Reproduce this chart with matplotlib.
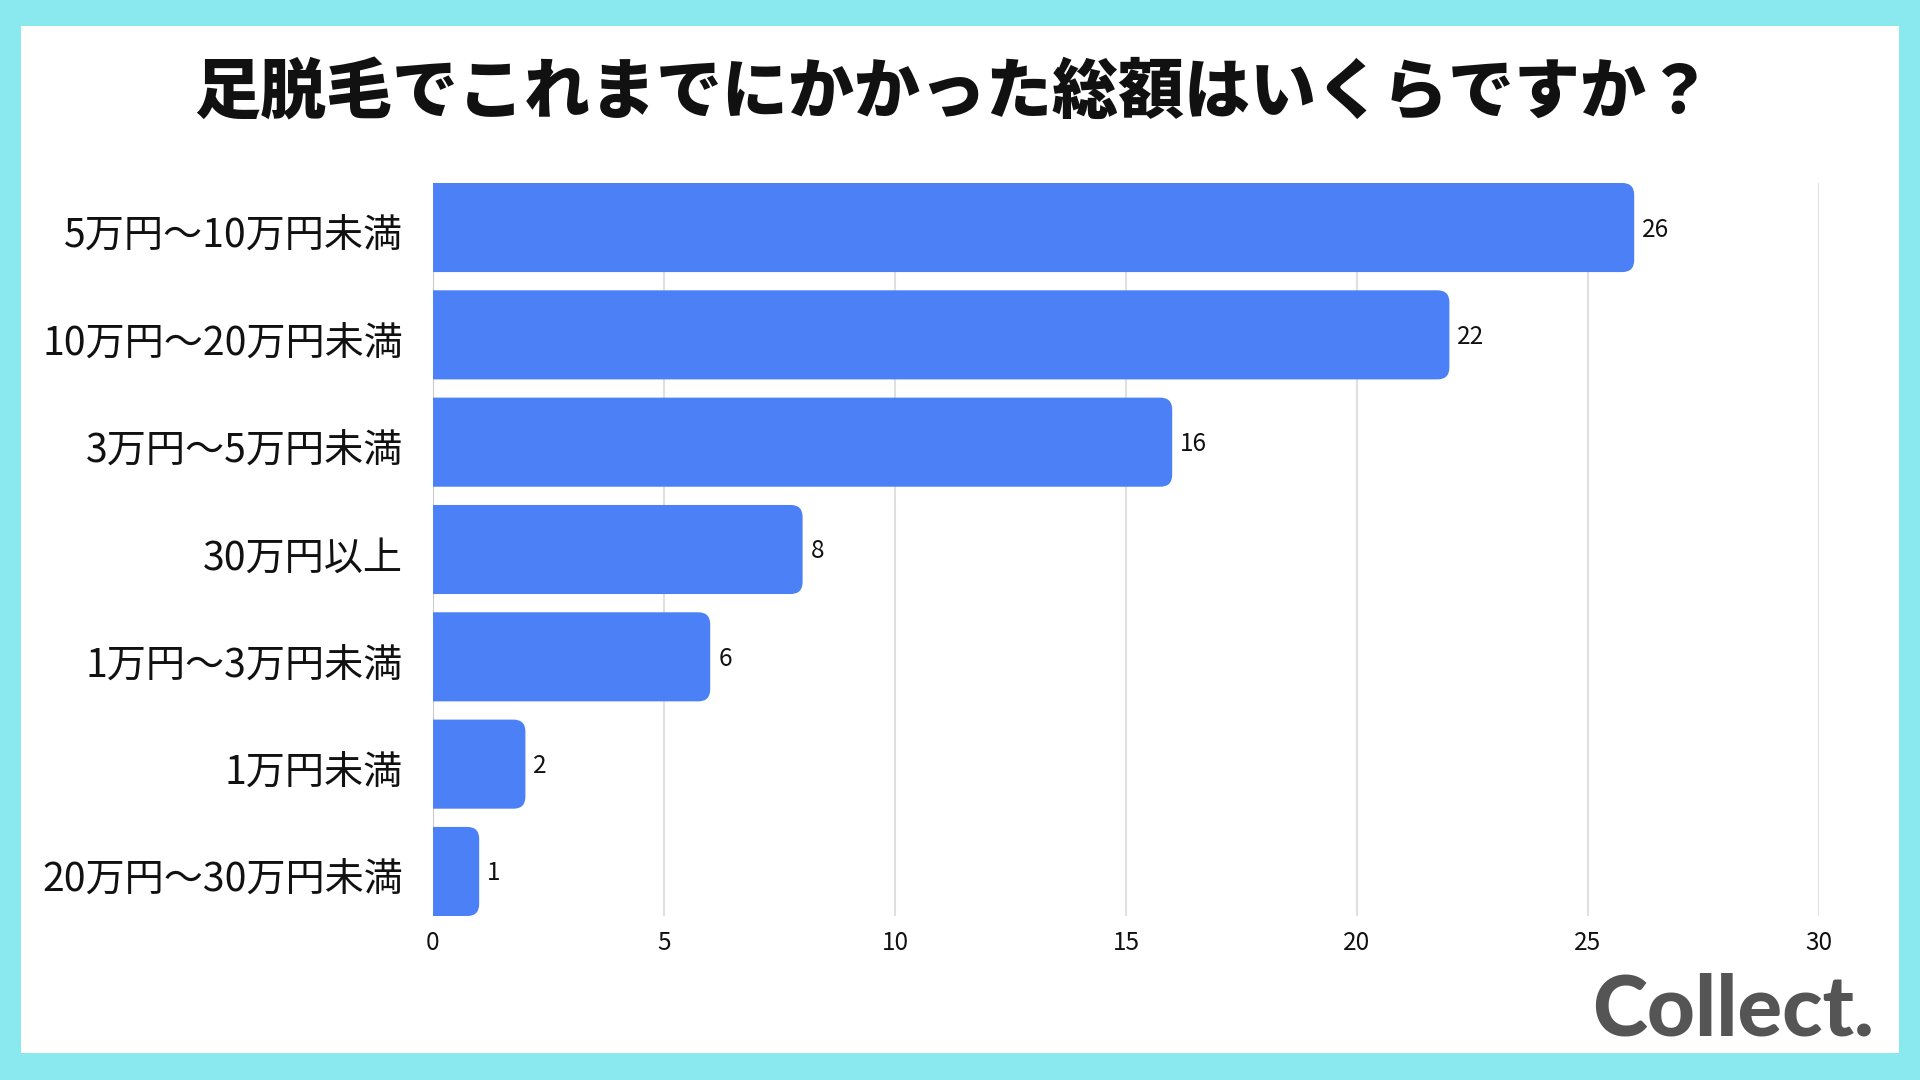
import matplotlib
matplotlib.use("Agg")
import matplotlib.pyplot as plt
import matplotlib.transforms as mtransforms
from matplotlib.patches import FancyBboxPatch, Rectangle

plt.rcParams['font.family'] = ['Noto Sans CJK JP', 'DejaVu Sans']

title = "足脱毛でこれまでにかかった総額はいくらですか？"
categories = ["5万円〜10万円未満", "10万円〜20万円未満", "3万円〜5万円未満", "30万円以上",
              "1万円〜3万円未満", "1万円未満", "20万円〜30万円未満"]
values = [26, 22, 16, 8, 6, 2, 1]
xticks = [0, 5, 10, 15, 20, 25, 30]

BAR = "#4B80F7"
BG = "#8AE9EE"

fig = plt.figure(figsize=(19.2, 10.8), dpi=100, facecolor=BG)
fig.patches.append(Rectangle((21/1920, 1-1053/1080), 1878/1920, 1027/1080,
                             transform=fig.transFigure, facecolor="white",
                             edgecolor="none", zorder=-10))

fig.text(953/1920, 1-93/1080, title, ha="center", va="center", fontsize=47.5,
         fontweight="black", color="#111111")

ax = fig.add_axes([433/1920, 1-916/1080, (1819-433)/1920, (916-183)/1080])
ax.set_zorder(2)
ax.set_facecolor("none")
h = 0.83
n = len(categories)
ax.set_xlim(0, 30)
ax.set_ylim(n - 1 + h/2, -h/2)

# pixel scale for rounded corners
fig.canvas.draw()
p0 = ax.transData.transform((0, 0))
p1 = ax.transData.transform((1, 1))
px_x = abs(p1[0]-p0[0])
px_y = abs(p1[1]-p0[1])
r_px = 12
rx = r_px / px_x
aspect = px_x / px_y

down_small = mtransforms.ScaledTranslation(0, -2/100, fig.dpi_scale_trans)
for i, v in enumerate(values):
    patch = FancyBboxPatch((-rx, i - h/2), v + rx, h,
                           boxstyle=f"round,pad=0,rounding_size={rx}",
                           mutation_aspect=aspect, facecolor=BAR,
                           edgecolor="none", zorder=3, clip_on=True)
    ax.add_patch(patch)
    ax.text(v + 8/px_x, i, str(v), va="center", ha="left", fontsize=17.5,
            color="#111111", zorder=4, transform=ax.transData + down_small)

ax.set_xticks(xticks)
ax.set_xticklabels([str(t) for t in xticks], fontsize=17.5, color="#111111")
ax.set_yticks(range(n))
ax.set_yticklabels(categories, fontsize=28.2, color="#111111")
ax.tick_params(axis="both", length=0)
ax.tick_params(axis="y", pad=21.5)
ax.tick_params(axis="x", pad=10)
down = mtransforms.ScaledTranslation(0, -5/100, fig.dpi_scale_trans)
for lab in ax.get_yticklabels():
    lab.set_transform(lab.get_transform() + down)
for s in ax.spines.values():
    s.set_visible(False)
for t in xticks[1:]:
    ax.axvline(t, color="#E0E0E0", lw=1.5, zorder=1)
ax.axvline(0, color="#C8C8C8", lw=1.5, zorder=2)

fig.text(1592/1920, 1-1011/1080, "Collect.", ha="left", va="center",
         fontsize=60, fontweight="black", family=["Lato", "DejaVu Sans"],
         color="#555555")

fig.savefig("out.png", dpi=100, facecolor=BG)
